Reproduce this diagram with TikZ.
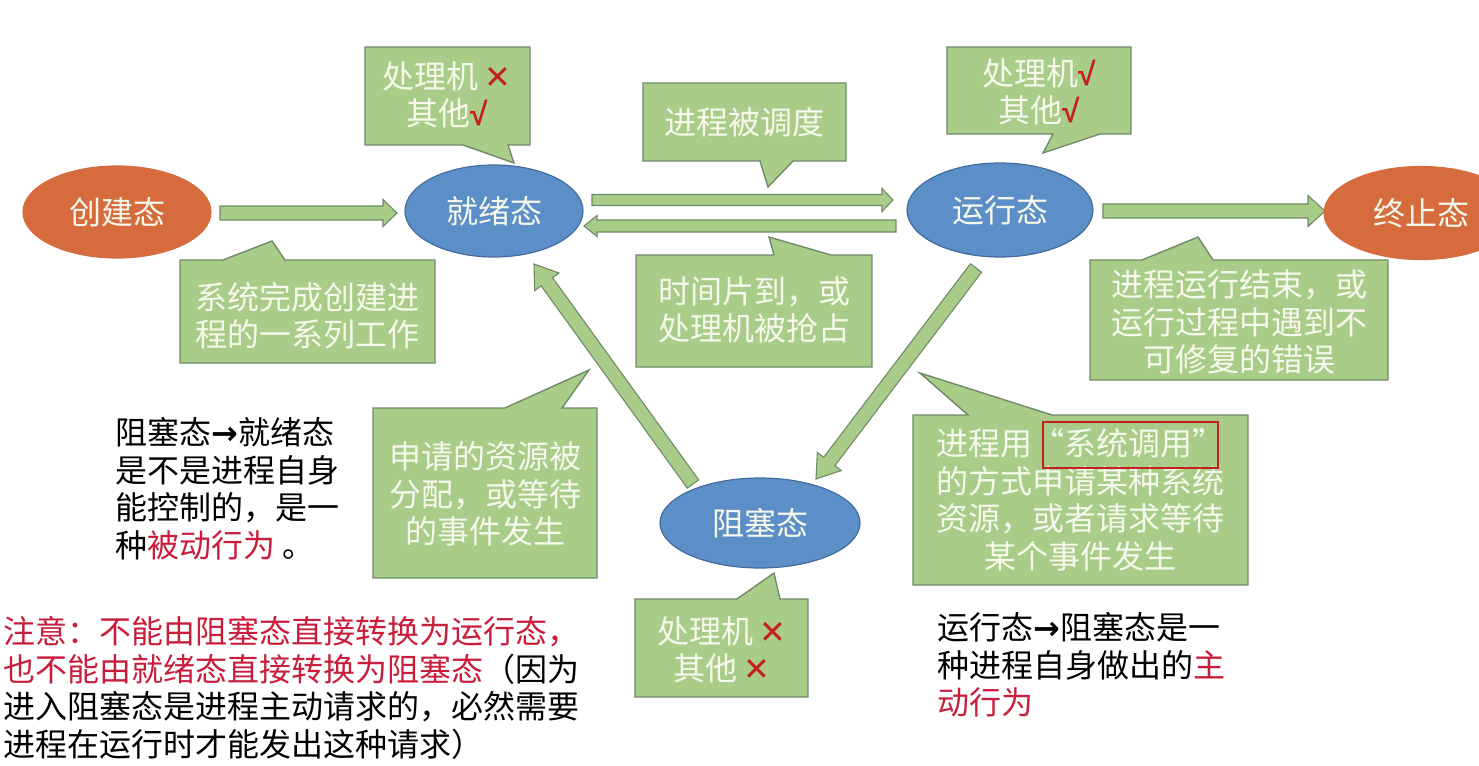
\documentclass[tikz,border=0pt]{standalone}
\usepackage{fontspec}
\setmainfont{Noto Sans CJK SC}
\newfontfamily\symf{DejaVu Sans}
\newfontfamily\libs{Liberation Sans}
\usetikzlibrary{calc,shapes.geometric}
\definecolor{gfill}{RGB}{169,205,137}
\definecolor{gline}{RGB}{112,138,104}
\definecolor{bfill}{RGB}{92,143,199}
\definecolor{bline}{RGB}{68,108,158}
\definecolor{ofill}{RGB}{214,108,62}
\definecolor{ltext}{RGB}{246,248,236}
\definecolor{redt}{RGB}{200,30,60}
\definecolor{redm}{RGB}{196,32,32}
\newcommand\okmark{{\color{redm}\libs\bfseries √}}
\newcommand\nomark{{\color{redm}\symf ✕}}
\newcommand\blockarrow[5]{%
 \path[blockar] let \p1=(#1), \p2=(#2), \n1={veclen(\x2-\x1,\y2-\y1)}, \n2={(\x2-\x1)/\n1}, \n3={(\y2-\y1)/\n1} in
 ({\x1-(\n3)*#3pt},{\y1+(\n2)*#3pt})
 -- ({\x2-(\n2)*#5pt-(\n3)*#3pt},{\y2-(\n3)*#5pt+(\n2)*#3pt})
 -- ({\x2-(\n2)*#5pt-(\n3)*#4pt},{\y2-(\n3)*#5pt+(\n2)*#4pt})
 -- (\x2,\y2)
 -- ({\x2-(\n2)*#5pt+(\n3)*#4pt},{\y2-(\n3)*#5pt-(\n2)*#4pt})
 -- ({\x2-(\n2)*#5pt+(\n3)*#3pt},{\y2-(\n3)*#5pt-(\n2)*#3pt})
 -- ({\x1+(\n3)*#3pt},{\y1-(\n2)*#3pt}) -- cycle;}
% callout with pointer on bottom edge: L,T,R,B,b1,b2,tip
\newcommand\calloutB[7]{\path[callout] (#1,#2) -- (#3,#2) -- (#3,#4) -- (#6,#4) -- (#7) -- (#5,#4) -- (#1,#4) -- cycle;}
% callout with pointer on top edge
\newcommand\calloutT[7]{\path[callout] (#1,#2) -- (#5,#2) -- (#7) -- (#6,#2) -- (#3,#2) -- (#3,#4) -- (#1,#4) -- cycle;}
\begin{document}
\begin{tikzpicture}[x=1pt,y=-1pt,
  txt/.style={font=\fontsize{32}{37.5}\selectfont, inner sep=0pt},
  ctext/.style={txt, text=ltext, align=center},
  btext/.style={txt, text=black, align=left, anchor=west},
  state/.style={ellipse, inner sep=0pt, txt, text=ltext, line width=1.2pt},
  bstate/.style={state, fill=bfill, draw=bline},
  ostate/.style={state, fill=ofill, draw=ofill},
  callout/.style={fill=gfill, draw=gline, line width=1.4pt, line join=miter},
  blockar/.style={fill=gfill, draw=gline, line width=1.1pt, line join=miter},
  redbox/.style={draw=redm, line width=2.6pt}]
\useasboundingbox (0,0) rectangle (1479,765);
\fill[white] (0,0) rectangle (1479,765);
\clip (0,0) rectangle (1479,765);

% callouts
\calloutB{365}{47}{530}{145}{463}{508}{514,163}
\calloutB{643}{83}{846}{161}{760}{793}{768,187}
\calloutB{947}{47}{1131}{134}{1053}{1100}{1043,153}
\calloutT{180}{260}{435}{363}{223}{285}{272,241}
\calloutT{636}{255}{872}{367}{774}{831}{769,237}
\calloutT{1090}{260}{1388}{380}{1142}{1213}{1198,237}
\calloutT{373}{408}{597}{578}{505}{562}{589,370}
\calloutT{913}{415}{1248}{585}{968}{1052}{920,373}
\calloutT{635}{599}{808}{697}{737}{780}{774,573}

% arrows
\coordinate (a1s) at (220,213); \coordinate (a1e) at (397,213);
\coordinate (a2s) at (592,200); \coordinate (a2e) at (893,200);
\coordinate (a3s) at (896,226); \coordinate (a3e) at (584,226);
\coordinate (a4s) at (1103,211); \coordinate (a4e) at (1325,211);
\coordinate (a5s) at (693,484); \coordinate (a5e) at (534,264);
\coordinate (a6s) at (976,268); \coordinate (a6e) at (816,479);
\blockarrow{a1s}{a1e}{7}{13.5}{14}
\blockarrow{a2s}{a2e}{5.5}{11.5}{11}
\blockarrow{a3s}{a3e}{6}{10.5}{13}
\blockarrow{a4s}{a4e}{7}{15.5}{17}
\blockarrow{a5s}{a5e}{7}{15}{22}
\blockarrow{a6s}{a6e}{7}{15}{22}

% states
\node[ostate, minimum width=188pt, minimum height=92pt] (create) at (117,212) {创建态};
\node[bstate, minimum width=178pt, minimum height=92pt] (ready) at (494,211) {就绪态};
\node[bstate, minimum width=186pt, minimum height=94pt] (run) at (1000,210) {运行态};
\node[ostate, minimum width=194pt, minimum height=93pt] (term) at (1421,213) {终止态};
\node[bstate, minimum width=200pt, minimum height=90pt] (block) at (760,523) {阻塞态};

% callout texts
\node[ctext] (c1) at (447,95) {处理机\,\nomark\\其他\okmark};
\node[ctext] (c2) at (744,122) {进程被调度};
\node[ctext] (c3) at (1039,92) {处理机\okmark\\其他\okmark};
\node[ctext] (c4) at (307,316) {系统完成创建进\\程的一系列工作};
\node[ctext] (c5) at (754,310) {时间片到，或\\处理机被抢占};
\node[ctext] (c6) at (1239,322) {进程运行结束，或\\运行过程中遇到不\\可修复的错误};
\node[ctext] (c7) at (485,494) {申请的资源被\\分配，或等待\\的事件发生};
\node[ctext] (c8) at (1080,500) {进程用“系统调用”\\的方式申请某种系统\\资源，或者请求等待\\某个事件发生};
\node[ctext] (c9) at (722,650) {处理机\,\nomark\\其他\,\nomark};
\draw[redbox] (1043,422) rectangle (1218,468);

% free texts
\node[btext] (n1) at (115,489) {阻塞态{\symf\bfseries →}就绪态\\是不是进程自身\\能控制的，是一\\种{\color{redt}被动行为}\ 。};
\node[btext] (n2) at (3,688) {{\color{redt}注意：不能由阻塞态直接转换为运行态，}\\{\color{redt}也不能由就绪态直接转换为阻塞态}（因为\\进入阻塞态是进程主动请求的，必然需要\\进程在运行时才能发出这种请求）};
\node[btext] (n3) at (937,665) {运行态{\symf\bfseries →}阻塞态是一\\种进程自身做出的{\color{redt}主}\\{\color{redt}动行为}};
\end{tikzpicture}
\end{document}
